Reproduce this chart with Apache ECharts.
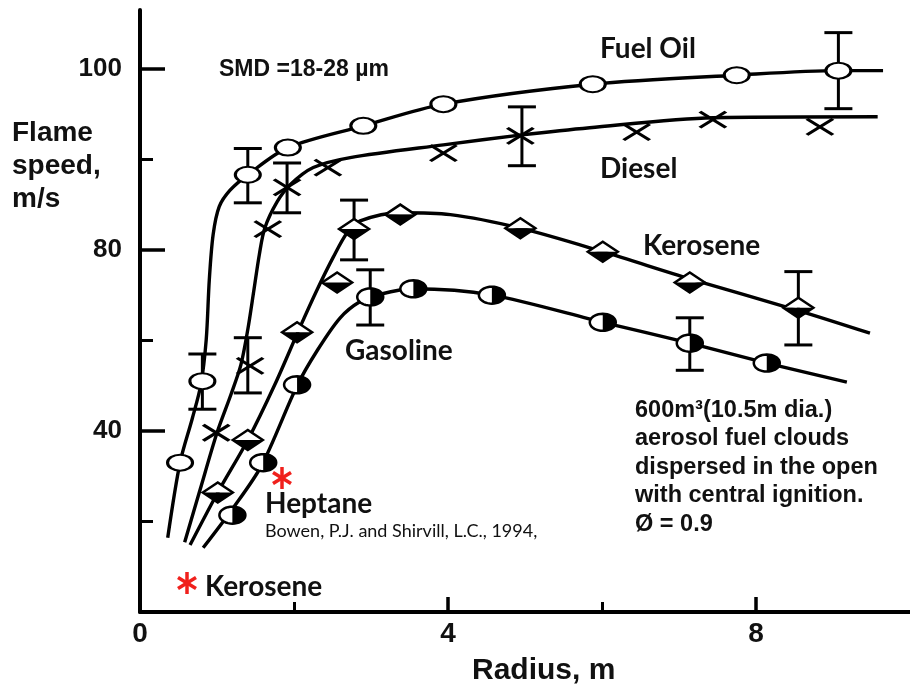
<!DOCTYPE html>
<html>
<head>
<meta charset="utf-8">
<script src="https://cdn.jsdelivr.net/npm/echarts@6/dist/echarts.min.js"></script>
<style>
  html, body { margin: 0; padding: 0; background: #fff; }
  #chart { width: 910px; height: 689px; }
</style>
</head>
<body>
<div id="chart"></div>
<script>
// values: [radius m, flame speed]
// the printed y labels (100, 80, 40) sit at equal spacing, so speeds are kept
// on the axis' own linear scale and the labels are mapped below
const xTickValues = [0, 4, 8];
const xTickLabels = ['0', '4', '8'];
const xMinorTicks = [2, 6];
const yTickValues = [60, 80, 100];
const yTickLabels = ['40', '80', '100'];
const yMinorTicks = [50, 70, 90];

// fitted curves
const fuelOilCurve = [[0.36, 48.2], [0.52, 56.5], [0.68, 61.4], [0.79, 65.1], [0.86, 70.1], [0.90, 76.7],
  [0.95, 81.7], [1.03, 84.8], [1.17, 86.6], [1.40, 88.3], [1.92, 91.3], [2.90, 93.7], [3.94, 96.1],
  [5.88, 98.3], [7.75, 99.3], [9.07, 99.8], [9.65, 99.8]];
const dieselCurve = [[0.58, 47.7], [0.78, 53.5], [1.00, 59.8], [1.18, 64.0], [1.31, 67.3], [1.40, 71.2],
  [1.48, 75.6], [1.55, 79.5], [1.62, 82.4], [1.78, 85.3], [1.95, 87.2], [2.25, 89.1], [2.73, 90.2],
  [3.94, 91.6], [4.96, 92.7], [5.84, 93.5], [7.44, 94.6], [9.58, 94.7]];
const keroseneCurve = [[0.65, 47.4], [1.01, 53.2], [1.40, 59.0], [1.75, 65.1], [2.08, 71.5], [2.30, 75.6],
  [2.51, 79.2], [2.69, 81.9], [2.86, 83.2], [3.38, 84.1], [4.03, 83.9], [4.94, 82.4], [6.01, 79.8],
  [7.14, 76.8], [8.55, 73.3], [9.48, 70.8]];
const gasolineCurve = [[0.82, 47.1], [1.21, 51.5], [1.58, 56.2], [2.04, 65.0], [2.31, 69.0], [2.60, 72.5],
  [2.86, 74.3], [3.12, 75.1], [3.55, 75.7], [4.57, 75.0], [6.01, 72.0], [7.14, 69.7], [8.14, 67.5], [9.18, 65.4]];

// measured points
const fuelOilPts = [[0.52, 56.5], [0.81, 65.5], [1.40, 88.3], [1.92, 91.3], [2.90, 93.7], [3.94, 96.1],
  [5.88, 98.3], [7.75, 99.3], [9.07, 99.8]];
const dieselPts = [[0.99, 59.8], [1.43, 67.2], [1.66, 82.3], [1.91, 86.9], [2.44, 89.1], [3.94, 90.7],
  [4.94, 92.6], [6.45, 93.0], [7.44, 94.4], [8.83, 93.6]];
const kerosenePts = [[1.01, 53.2], [1.40, 59.0], [2.04, 70.9], [2.56, 76.4], [2.78, 82.3], [3.38, 83.9],
  [4.94, 82.4], [6.01, 79.8], [7.14, 76.4], [8.55, 73.6]];
const gasolinePts = [[1.20, 50.7], [1.60, 56.5], [2.04, 65.1], [2.99, 74.8], [3.55, 75.7], [4.57, 75.0],
  [6.01, 72.0], [7.14, 69.7], [8.14, 67.5]];

// error bars: [radius, low, high]
const fuelOilErr = [[0.81, 62.4, 68.5], [1.40, 85.2, 91.2], [9.07, 95.6, 104.0]];
const dieselErr = [[1.40, 64.2, 70.3], [1.91, 84.1, 89.6], [4.96, 89.3, 95.8]];
const keroseneErr = [[2.78, 78.9, 85.5], [8.55, 69.5, 77.6]];
const gasolineErr = [[2.99, 71.7, 77.8], [7.14, 66.7, 72.5]];

const ARIAL = '"Liberation Sans", Arial, sans-serif';
const CALIBRI = 'Lato, "Open Sans", sans-serif';

const chart = echarts.init(document.getElementById('chart'));

function curve(data) {
  return {
    type: 'line', data: data, smooth: 0.3, symbol: 'none', z: 2,
    lineStyle: { color: '#000', width: 3.4 }
  };
}

function errorBar(params, api) {
  const x = api.value(0);
  const lo = api.coord([x, api.value(1)]);
  const hi = api.coord([x, api.value(2)]);
  const cap = 14;
  const style = { stroke: '#000', lineWidth: 3 };
  return {
    type: 'group', children: [
      { type: 'line', shape: { x1: lo[0], y1: lo[1], x2: hi[0], y2: hi[1] }, style: style },
      { type: 'line', shape: { x1: hi[0] - cap, y1: hi[1], x2: hi[0] + cap, y2: hi[1] }, style: style },
      { type: 'line', shape: { x1: lo[0] - cap, y1: lo[1], x2: lo[0] + cap, y2: lo[1] }, style: style }
    ]
  };
}

function errSeries(data) {
  return { type: 'custom', data: data, renderItem: errorBar, z: 3, encode: { x: 0, y: [1, 2] } };
}

// diamond, top half open, bottom half filled
function halfDiamond(params, api) {
  const c = api.coord([api.value(0), api.value(1)]);
  const w = 15, h = 10;
  const L = [c[0] - w, c[1]], T = [c[0], c[1] - h], R = [c[0] + w, c[1]], B = [c[0], c[1] + h];
  return {
    type: 'group', children: [
      { type: 'polygon', shape: { points: [L, T, R] }, style: { fill: '#fff' } },
      { type: 'polygon', shape: { points: [L, B, R] }, style: { fill: '#000' } },
      { type: 'polygon', shape: { points: [L, T, R, B] }, style: { fill: 'none', stroke: '#000', lineWidth: 2.5 } }
    ]
  };
}

// ellipse, left half open, right half filled
function halfCircle(params, api) {
  const c = api.coord([api.value(0), api.value(1)]);
  const rx = 13, ry = 8.5;
  const full = [], right = [];
  for (let i = 0; i < 36; i++) {
    const a = Math.PI * 2 * i / 36;
    full.push([c[0] + rx * Math.cos(a), c[1] + ry * Math.sin(a)]);
  }
  for (let i = 0; i <= 18; i++) {
    const a = -Math.PI / 2 + Math.PI * i / 18;
    right.push([c[0] + rx * Math.cos(a), c[1] + ry * Math.sin(a)]);
  }
  return {
    type: 'group', children: [
      { type: 'polygon', shape: { points: full }, style: { fill: '#fff', stroke: '#000', lineWidth: 2.5 } },
      { type: 'polygon', shape: { points: right }, style: { fill: '#000' } }
    ]
  };
}

function txt(text, left, top, size, font, weight, extra) {
  return {
    type: 'text', left: left, top: top, z: 10,
    style: Object.assign({ text: text, fill: '#111', font: weight + ' ' + size + 'px ' + font }, extra || {})
  };
}

function asterisk(cx, cy) {
  const s = { stroke: '#f0201c', lineWidth: 3.5 };
  return {
    type: 'group', x: cx, y: cy, z: 10, children: [
      { type: 'line', shape: { x1: 0, y1: -11, x2: 0, y2: 11 }, style: s },
      { type: 'line', shape: { x1: -9, y1: -5.5, x2: 9, y2: 5.5 }, style: s },
      { type: 'line', shape: { x1: -9, y1: 5.5, x2: 9, y2: -5.5 }, style: s }
    ]
  };
}

chart.setOption({
  animation: false,
  backgroundColor: '#fff',
  grid: { left: 140, right: 0, top: 10, bottom: 77 },
  xAxis: [
    {
      type: 'value', min: 0, max: 10, position: 'bottom',
      axisLine: { onZero: false, lineStyle: { color: '#000', width: 4 } },
      axisTick: { inside: true, length: 15, customValues: xTickValues.slice(1), lineStyle: { color: '#000', width: 3.5 } },
      axisLabel: {
        customValues: xTickValues, margin: 8, color: '#111',
        fontFamily: ARIAL, fontWeight: 'bold', fontSize: 28,
        formatter: v => xTickLabels[xTickValues.indexOf(v)]
      },
      splitLine: { show: false }
    },
    {
      type: 'value', min: 0, max: 10, position: 'bottom',
      axisLine: { show: false },
      axisTick: { inside: true, length: 10, customValues: xMinorTicks, lineStyle: { color: '#000', width: 3 } },
      axisLabel: { show: false },
      splitLine: { show: false }
    }
  ],
  yAxis: [
    {
      type: 'value', min: 40, max: 106.5, position: 'left',
      axisLine: { show: true, onZero: false, lineStyle: { color: '#000', width: 4 } },
      axisTick: { show: true, inside: true, length: 25, customValues: yTickValues, lineStyle: { color: '#000', width: 3.5 } },
      axisLabel: {
        customValues: yTickValues, margin: 18, color: '#111',
        fontFamily: ARIAL, fontWeight: 'bold', fontSize: 26,
        formatter: v => yTickLabels[yTickValues.indexOf(v)]
      },
      splitLine: { show: false }
    },
    {
      type: 'value', min: 40, max: 106.5, position: 'left',
      axisLine: { show: false },
      axisTick: { show: true, inside: true, length: 13, customValues: yMinorTicks, lineStyle: { color: '#000', width: 3 } },
      axisLabel: { show: false },
      splitLine: { show: false }
    }
  ],
  series: [
    curve(fuelOilCurve),
    curve(dieselCurve),
    curve(keroseneCurve),
    curve(gasolineCurve),
    errSeries(fuelOilErr),
    errSeries(dieselErr),
    errSeries(keroseneErr),
    errSeries(gasolineErr),
    {
      type: 'scatter', data: fuelOilPts, symbol: 'circle', symbolSize: [25, 16], z: 4,
      itemStyle: { color: '#fff', borderColor: '#000', borderWidth: 2.5, opacity: 1 }
    },
    {
      type: 'scatter', data: dieselPts, symbol: 'path://M0,0L26,16M0,16L26,0', symbolSize: [26, 16], z: 4,
      itemStyle: { color: 'transparent', borderColor: '#000', borderWidth: 3.2, opacity: 1 }
    },
    { type: 'custom', data: kerosenePts, renderItem: halfDiamond, z: 4 },
    { type: 'custom', data: gasolinePts, renderItem: halfCircle, z: 4 }
  ],
  graphic: [
    txt('Flame\nspeed,\nm/s', 12, 117, 28, ARIAL, 'bold', { lineHeight: 33 }),
    txt('SMD =18-28 µm', 219, 58, 23, ARIAL, 'bold'),
    txt('Fuel Oil', 600, 35, 28, CALIBRI, 'bold'),
    txt('Diesel', 600, 155, 28, CALIBRI, 'bold'),
    txt('Kerosene', 643, 232, 28, CALIBRI, 'bold'),
    txt('Gasoline', 345, 337, 28, CALIBRI, 'bold'),
    txt('Heptane', 265, 490, 28, CALIBRI, 'bold'),
    txt('Bowen, P.J. and Shirvill, L.C., 1994,', 265, 522, 18, CALIBRI, 'normal'),
    txt('Kerosene', 205, 573, 28, CALIBRI, 'bold'),
    txt('600m³(10.5m dia.)\naerosol fuel clouds\ndispersed in the open\nwith central ignition.\nØ = 0.9',
      635, 396, 23.5, ARIAL, 'bold', { lineHeight: 28.5 }),
    txt('Radius, m', 472, 656, 30, ARIAL, 'bold'),
    asterisk(282, 478),
    asterisk(187, 583)
  ]
});
</script>
</body>
</html>
